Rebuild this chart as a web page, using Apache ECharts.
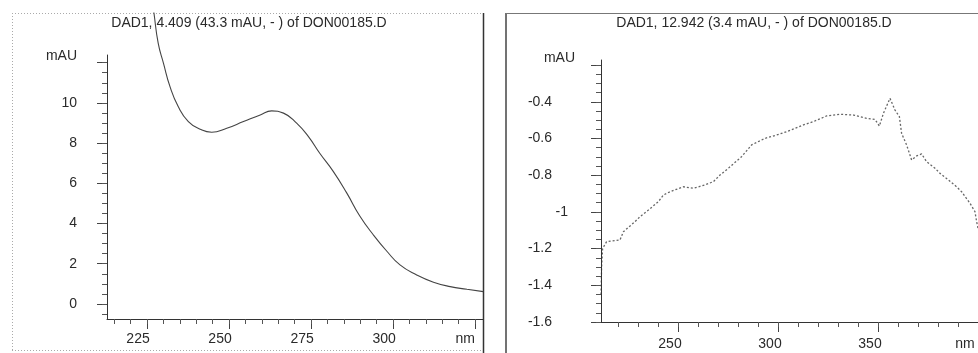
<!DOCTYPE html>
<html><head><meta charset="utf-8">
<script src="https://cdn.jsdelivr.net/npm/echarts@6/dist/echarts.min.js"></script>
<style>html,body{margin:0;padding:0;background:#fff;} #c{width:978px;height:353px;}</style>
</head><body><div id="c"></div>
<script>
// ---- text ----
const titleA = 'DAD1, 4.409 (43.3 mAU, - ) of DON00185.D';
const titleB = 'DAD1, 12.942 (3.4 mAU, - ) of DON00185.D';

// ---- left spectrum (nm, mAU) ----
const wlA  = [226.0, 227.1, 228.4, 230.0, 232.0, 234.5, 237.6, 241.2, 244.7, 249.3, 254.4, 259.5, 263.0, 266.6, 270.6, 274.2, 277.7, 281.8, 285.9, 289.9, 294.0, 298.1, 302.1, 307.2, 312.3, 317.4, 322.5, 327.5];
const absA = [15.8, 14.48, 12.97, 11.98, 10.81, 9.82, 9.07, 8.69, 8.54, 8.74, 9.07, 9.40, 9.60, 9.49, 8.99, 8.32, 7.48, 6.58, 5.51, 4.36, 3.43, 2.62, 1.94, 1.44, 1.08, 0.86, 0.73, 0.61];

// ---- right spectrum (nm, mAU) ----
const wlB  = [211.5, 211.8, 212.3, 214.3, 221.0, 222.7, 228.5, 231.0, 235.2, 240.2, 242.7, 246.0, 252.7, 257.7, 263.5, 267.7, 271.0, 275.2, 281.8, 286.8, 293.5, 299.3, 304.3, 312.7, 317.7, 324.3, 331.0, 337.7, 344.3, 348.5, 350.7, 352.7, 356.0, 358.5, 360.7, 361.8, 364.3, 366.8, 369.3, 371.8, 374.3, 378.5, 381.0, 385.2, 389.3, 391.8, 396.0, 398.5, 399.3, 400.0];
const absB = [-1.45, -1.30, -1.20, -1.162, -1.153, -1.108, -1.053, -1.026, -0.990, -0.944, -0.908, -0.890, -0.863, -0.871, -0.853, -0.835, -0.799, -0.762, -0.699, -0.635, -0.599, -0.581, -0.563, -0.526, -0.508, -0.477, -0.468, -0.472, -0.490, -0.496, -0.532, -0.463, -0.381, -0.445, -0.481, -0.572, -0.635, -0.717, -0.695, -0.684, -0.726, -0.762, -0.790, -0.826, -0.863, -0.890, -0.953, -0.999, -1.053, -1.09];

// ---- ticks & labels ----
const xTicksA  = [225, 250, 275, 300, 325];
const xLabelsA = ['225', '250', '275', '300', 'nm'];
const yTicksA  = [0, 2, 4, 6, 8, 10, 12];
const yLabelPosA = [0, 2, 4, 6, 8, 10, 12.3];
const yLabelsA = ['0', '2', '4', '6', '8', '10', 'mAU'];

const xTicksB  = [250, 300, 350, 400];
const xLabelsB = ['250', '300', '350', 'nm'];
const yTicksB  = [-1.6, -1.4, -1.2, -1, -0.8, -0.6, -0.4, -0.2];
const yLabelPosB = [-1.6, -1.4, -1.2, -1, -0.8, -0.6, -0.4, -0.16];
const yLabelsB = ['-1.6', '-1.4', '-1.2', '-1', '-0.8', '-0.6', '-0.4', 'mAU'];

// axis ranges
const xRangeA = [212.8, 327.4], yRangeA = [-0.75, 14.47];
const xRangeB = [211.5, 400],   yRangeB = [-1.6, 0.084];

function steps(a, b, s) { const r = []; for (let v = a; v <= b + 1e-9; v += s) r.push(Math.round(v * 1000) / 1000); return r; }
const xMinorA = steps(215, 325, 5);
const yMinorA = steps(-0.5, 12, 0.5);
const xMinorB = steps(220, 400, 10);
const yMinorB = steps(-1.6, -0.2, 0.05);

const FONT = 'Liberation Sans, Arial, sans-serif';
const INK = '#2a2a2a';

function lookup(pos, labels) { return v => { const i = pos.findIndex(p => Math.abs(p - v) < 1e-6); return i < 0 ? '' : labels[i]; }; }

function xMain(g, range, ticks, labels, shift, nmShift, margin) {
  const f = lookup(ticks, labels);
  return {
    gridIndex: g, type: 'value', position: 'bottom', min: range[0], max: range[1],
    axisLine: { show: true, onZero: false, lineStyle: { color: '#333', width: 1 } },
    axisTick: { show: true, customValues: ticks, length: 10, lineStyle: { color: '#444' } },
    axisLabel: {
      show: true, customValues: ticks, margin: margin,
      formatter: v => { const t = f(v); return t === 'nm' ? '{n|nm}' : '{a|' + t + '}'; },
      rich: {
        a: { fontFamily: FONT, fontSize: 14, color: INK, padding: [0, shift, 0, 0] },
        n: { fontFamily: FONT, fontSize: 14, color: INK, padding: [0, nmShift, 0, 0] }
      }
    },
    splitLine: { show: false }
  };
}
function xMinor(g, range, ticks) {
  return {
    gridIndex: g, type: 'value', position: 'bottom', min: range[0], max: range[1],
    axisLine: { show: false, onZero: false },
    axisTick: { show: true, customValues: ticks, length: 5, lineStyle: { color: '#555' } },
    axisLabel: { show: false }, splitLine: { show: false }
  };
}
function yMain(g, range, ticks, labPos, labelFmt, margin, rich) {
  return {
    gridIndex: g, type: 'value', position: 'left', min: range[0], max: range[1],
    axisLine: { show: false, onZero: false },
    axisTick: { show: true, customValues: ticks, length: 10, lineStyle: { color: '#444' } },
    axisLabel: { show: true, customValues: labPos, margin: margin, formatter: labelFmt, rich: rich },
    splitLine: { show: false }
  };
}
function yMinor(g, range, ticks) {
  return {
    gridIndex: g, type: 'value', position: 'left', min: range[0], max: range[1],
    axisLine: { show: false, onZero: false },
    axisTick: { show: true, customValues: ticks, length: 5, lineStyle: { color: '#555' } },
    axisLabel: { show: false }, splitLine: { show: false }
  };
}

const fA = lookup(yLabelPosA, yLabelsA);
const fB = lookup(yLabelPosB, yLabelsB);
const labStyle = { fontFamily: FONT, fontSize: 14, color: INK };

const chart = echarts.init(document.getElementById('c'), null, { renderer: 'canvas' });
chart.setOption({
  animation: false,
  backgroundColor: '#fff',
  title: [
    { text: titleA, left: 249, top: 16, textAlign: 'center', padding: 0,
      textStyle: { fontFamily: FONT, fontSize: 14, fontWeight: 'normal', color: INK } },
    { text: titleB, left: 754, top: 16, textAlign: 'center', padding: 0,
      textStyle: { fontFamily: FONT, fontSize: 14, fontWeight: 'normal', color: INK } }
  ],
  grid: [
    { left: 107, top: 13, width: 376, height: 306, containLabel: false },
    { left: 601, top: 13, width: 377, height: 309, containLabel: false }
  ],
  xAxis: [
    xMain(0, xRangeA, xTicksA, xLabelsA, 18, 20, 13),
    xMinor(0, xRangeA, xMinorA),
    xMain(1, xRangeB, xTicksB, xLabelsB, 16, 26, 15),
    xMinor(1, xRangeB, xMinorB)
  ],
  yAxis: [
    yMain(0, yRangeA, yTicksA, yLabelPosA, v => '{a|' + fA(v) + '}', 30, { a: labStyle }),
    yMinor(0, yRangeA, yMinorA),
    yMain(1, yRangeB, yTicksB, yLabelPosB, v => {
      const t = fB(v);
      if (t === 'mAU') return '{u|mAU}';
      if (t === '-1') return '{b|-1}';
      return '{a|' + t + '}';
    }, 26, {
      a: Object.assign({ padding: [0, 23, 0, 0] }, labStyle),
      b: Object.assign({ padding: [0, 7, 0, 0] }, labStyle),
      u: Object.assign({ padding: [0, 0, 0, 0] }, labStyle)
    }),
    yMinor(1, yRangeB, yMinorB)
  ],
  series: [
    {
      type: 'line', xAxisIndex: 0, yAxisIndex: 0,
      data: wlA.map((w, i) => [w, absA[i]]),
      showSymbol: false, smooth: 0.5, clip: true,
      lineStyle: { color: '#444', width: 1.1 },
      markLine: {
        silent: true, symbol: 'none', label: { show: false },
        lineStyle: { color: '#333', width: 1, type: 'solid' },
        data: [[{ coord: [xRangeA[0], 12.4] }, { coord: [xRangeA[0], yRangeA[0]] }]]
      }
    },
    {
      type: 'line', xAxisIndex: 2, yAxisIndex: 2,
      data: wlB.map((w, i) => [w, absB[i]]),
      showSymbol: false, smooth: false, clip: true,
      lineStyle: { color: '#666', width: 1.3, type: [2, 2] },
      markLine: {
        silent: true, symbol: 'none', label: { show: false },
        lineStyle: { color: '#333', width: 1, type: 'solid' },
        data: [[{ coord: [xRangeB[0], -0.17] }, { coord: [xRangeB[0], yRangeB[0]] }]]
      }
    }
  ],
  graphic: [
    { type: 'line', shape: { x1: 12, y1: 13.5, x2: 483, y2: 13.5 }, style: { stroke: '#aaa', lineWidth: 1, lineDash: [1, 2] }, silent: true },
    { type: 'line', shape: { x1: 12.5, y1: 13, x2: 12.5, y2: 350 }, style: { stroke: '#aaa', lineWidth: 1, lineDash: [1, 2] }, silent: true },
    { type: 'line', shape: { x1: 12, y1: 350.5, x2: 483, y2: 350.5 }, style: { stroke: '#aaa', lineWidth: 1, lineDash: [1, 2] }, silent: true },
    { type: 'line', shape: { x1: 483.5, y1: 13, x2: 483.5, y2: 353 }, style: { stroke: '#333', lineWidth: 1.5 }, silent: true },
    { type: 'line', shape: { x1: 506, y1: 13, x2: 506, y2: 353 }, style: { stroke: '#444', lineWidth: 1.5 }, silent: true },
    { type: 'line', shape: { x1: 506, y1: 13.5, x2: 978, y2: 13.5 }, style: { stroke: '#777', lineWidth: 1 }, silent: true }
  ]
});
</script>
</body></html>
